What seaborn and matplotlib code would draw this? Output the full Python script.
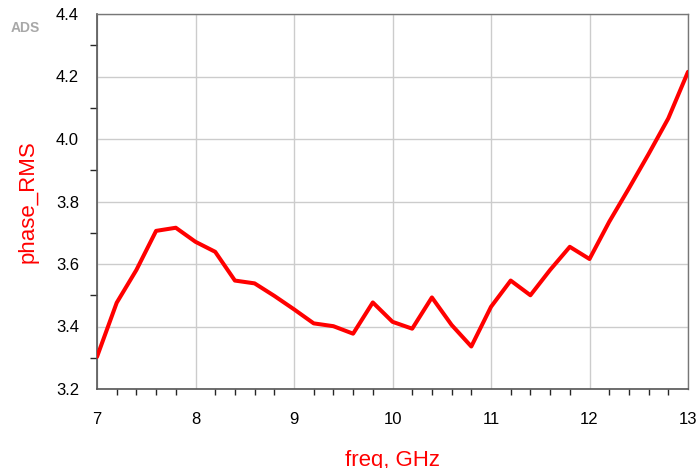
import numpy as np
import pandas as pd
import matplotlib
matplotlib.use("Agg")
import matplotlib.pyplot as plt
import seaborn as sns
from matplotlib.ticker import MultipleLocator

# Frequency sweep (GHz) and RMS phase error
freq_ghz = [7.0, 7.2, 7.4, 7.6, 7.8, 8.0, 8.2, 8.4, 8.6, 8.8,
            9.0, 9.2, 9.4, 9.6, 9.8, 10.0, 10.2, 10.4, 10.6, 10.8,
            11.0, 11.2, 11.4, 11.6, 11.8, 12.0, 12.2, 12.4, 12.6, 12.8, 13.0]
phase_rms = [3.303, 3.476, 3.581, 3.706, 3.716, 3.671, 3.639, 3.547, 3.538, 3.498,
             3.455, 3.410, 3.401, 3.377, 3.477, 3.415, 3.393, 3.493, 3.405, 3.336,
             3.463, 3.547, 3.500, 3.581, 3.655, 3.616, 3.735, 3.842, 3.952, 4.066, 4.215]

x_ticks = [7, 8, 9, 10, 11, 12, 13]
y_ticks = [3.2, 3.4, 3.6, 3.8, 4.0, 4.2, 4.4]

df = pd.DataFrame({"freq": freq_ghz, "phase_RMS": phase_rms})

sns.set_style("white")
plt.rcParams["font.family"] = ["Liberation Sans", "DejaVu Sans"]

fig = plt.figure(figsize=(6.99, 4.68), dpi=100)
ax = fig.add_axes([97 / 699, 1 - 389 / 468, (688 - 97) / 699, (389 - 14) / 468])

sns.lineplot(data=df, x="freq", y="phase_RMS", ax=ax, color="#ff0000",
             linewidth=2.9, zorder=3)

ax.set_xlim(7, 13)
ax.set_ylim(3.2, 4.4)
ax.set_xticks(x_ticks)
ax.set_yticks(y_ticks)
ax.set_xticklabels([str(t) for t in x_ticks])
ax.set_yticklabels([f"{t:.1f}" for t in y_ticks])
ax.xaxis.set_minor_locator(MultipleLocator(0.2))
ax.yaxis.set_minor_locator(MultipleLocator(0.1))

ax.grid(True, which="major", color="#cccccc", linewidth=1.0, zorder=0)
ax.set_axisbelow(True)

for side in ["left", "bottom"]:
    ax.spines[side].set_color("#555555")
    ax.spines[side].set_linewidth(1.2)
for side in ["top", "right"]:
    ax.spines[side].set_color("#777777")
    ax.spines[side].set_linewidth(1.0)

ax.tick_params(axis="both", which="major", direction="out", color="#555555",
               labelsize=12, labelcolor="black")
ax.tick_params(axis="y", which="major", length=11, width=1.0, pad=2)
ax.tick_params(axis="x", which="major", length=10.5, width=1.0, pad=6)
ax.tick_params(axis="y", which="minor", length=5, width=1.0, left=True)
ax.tick_params(axis="x", which="minor", length=4.5, width=1.0, bottom=True)

ax.set_xlabel("freq, GHz", color="#ff0000", fontsize=16)
ax.set_ylabel("phase_RMS", color="#ff0000", fontsize=16)
ax.xaxis.set_label_coords(0.5, -(450 - 389) / 375)
ax.yaxis.set_label_coords((39 - 97) / 591, 0.5)

fig.text(11 / 699, 1 - 32 / 468, "ADS", color="#a8a8a8", fontsize=10,
         fontweight="bold")

fig.savefig("out.png", dpi=100)
